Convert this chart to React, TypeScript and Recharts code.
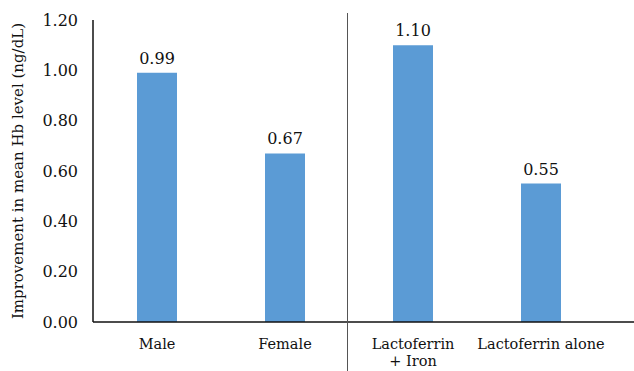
import { BarChart, Bar, XAxis, YAxis, LabelList, Label } from 'recharts'

const categories = ['Male', 'Female', 'Lactoferrin\n+ Iron', 'Lactoferrin alone']
const improvement = [0.99, 0.67, 1.1, 0.55]
const yTicks = [0, 0.2, 0.4, 0.6, 0.8, 1.0, 1.2]

const data = categories.map((name, i) => ({ name, value: improvement[i] }))

// no Times-like font in the sandbox, DejaVu Serif is the closest serif
const FONT = "'DejaVu Serif', serif"

function CategoryTick(props: any) {
  const { x, y, payload } = props
  const lines = String(payload.value).split('\n')
  return (
    <text x={x} y={y} textAnchor="middle" style={{ fontFamily: FONT, fontSize: 14.5 }} fill="#111">
      {lines.map((line, i) => (
        <tspan key={i} x={x} dy={i === 0 ? 19 : 17}>
          {line}
        </tspan>
      ))}
    </text>
  )
}

export default function App() {
  return (
    <div
      style={{
        position: 'absolute',
        left: 0,
        top: 0,
        width: 634,
        height: 371,
        background: '#fff',
        fontFamily: FONT,
      }}
    >
      <BarChart
        width={634}
        height={371}
        data={data}
        margin={{ top: 20, right: 0, bottom: 19, left: 0 }}
        barSize={40}
        style={{ fontFamily: FONT }}
      >
        <XAxis
          dataKey="name"
          height={30}
          tick={<CategoryTick />}
          tickLine={false}
          axisLine={{ stroke: '#111', strokeWidth: 1.5 }}
          padding={{ left: 0, right: 29 }}
          interval={0}
        />
        <YAxis
          width={93}
          domain={[0, 1.2]}
          ticks={yTicks}
          tickFormatter={(v: number) => v.toFixed(2)}
          tickLine={false}
          tickMargin={9}
          axisLine={{ stroke: '#111', strokeWidth: 1.5 }}
          tick={{ fontSize: 16, fill: '#111', style: { fontFamily: FONT } }}
        >
          <Label
            value="Improvement in mean Hb level (ng/dL)"
            angle={-90}
            position="insideLeft"
            offset={18}
            style={{ textAnchor: 'middle', fontFamily: FONT, fontSize: 15, fill: '#111' }}
          />
        </YAxis>
        <Bar dataKey="value" fill="#5b9bd5" isAnimationActive={false}>
          <LabelList
            dataKey="value"
            position="top"
            offset={9}
            formatter={(v: any) => Number(v).toFixed(2)}
            style={{ fontFamily: FONT, fontSize: 16, fill: '#111' }}
          />
        </Bar>
      </BarChart>
      <div
        style={{ position: 'absolute', left: 347, top: 13, width: 1, height: 358, background: '#555' }}
      />
    </div>
  )
}
